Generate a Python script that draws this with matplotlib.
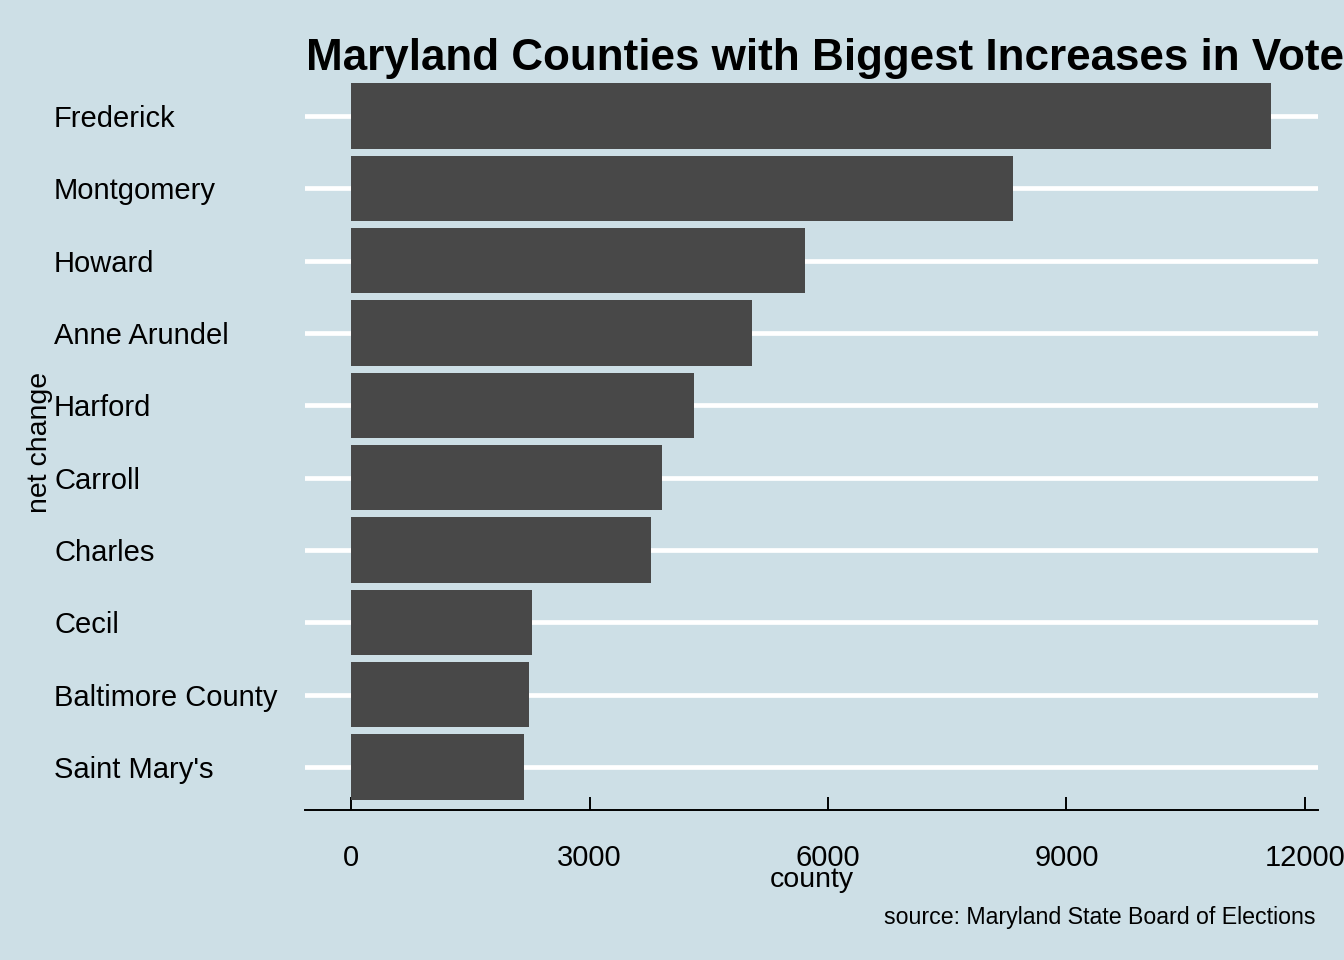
import matplotlib
matplotlib.use("Agg")
import matplotlib.pyplot as plt

counties = ["Frederick", "Montgomery", "Howard", "Anne Arundel", "Harford",
            "Carroll", "Charles", "Cecil", "Baltimore County", "Saint Mary's"]
net_change = [11576, 8330, 5711, 5043, 4312, 3909, 3772, 2274, 2237, 2174]
xticks = [0, 3000, 6000, 9000, 12000]

BG = "#cddfe6"
BAR = "#484848"
plt.rcParams['font.family'] = ['Liberation Sans', 'DejaVu Sans']

fig = plt.figure(figsize=(13.44, 9.6), dpi=100, facecolor=BG)
W, H = 1344, 960
left, right, top, bottom = 305, 1318, 72.6, 810.4
ax = fig.add_axes([left / W, 1 - bottom / H, (right - left) / W, (bottom - top) / H])
ax.set_facecolor(BG)

n = len(counties)
ypos = list(range(n, 0, -1))
ax.barh(ypos, net_change, height=0.9, color=BAR, zorder=2)

ax.set_ylim(0.4, n + 0.6)
ax.set_xlim(-583, 12167)
ax.set_yticks(ypos)
ax.set_yticklabels(counties)
ax.set_xticks(xticks)
ax.set_xticklabels([str(t) for t in xticks])

for s in ["top", "right", "left"]:
    ax.spines[s].set_visible(False)
ax.spines["bottom"].set_color("black")
ax.spines["bottom"].set_linewidth(1.4)

ax.grid(axis="y", color="white", linewidth=3.4, zorder=1)
ax.grid(axis="x", visible=False)
ax.set_axisbelow(True)

ax.tick_params(axis="y", length=0, pad=180.7, labelsize=21)
for lab in ax.get_yticklabels():
    lab.set_horizontalalignment("left")
ax.tick_params(axis="x", direction="in", length=9.4, width=1.4, pad=24, labelsize=21, color="black")

fig.text(811.5 / W, 1 - 887 / H, "county", fontsize=20.5, ha="center", va="baseline")
fig.text(40 / W, 1 - 442 / H, "net change", rotation=90, fontsize=20.5, ha="center", va="center")

fig.text(306 / W, 1 - 70 / H, "Maryland Counties with Biggest Increases in Vote Registration",
         fontsize=31.7, fontweight="bold", ha="left", va="baseline")
fig.text(1315 / W, 1 - 924 / H, "source: Maryland State Board of Elections",
         fontsize=16.7, ha="right", va="baseline")

fig.savefig("out.png", dpi=100, facecolor=BG)
